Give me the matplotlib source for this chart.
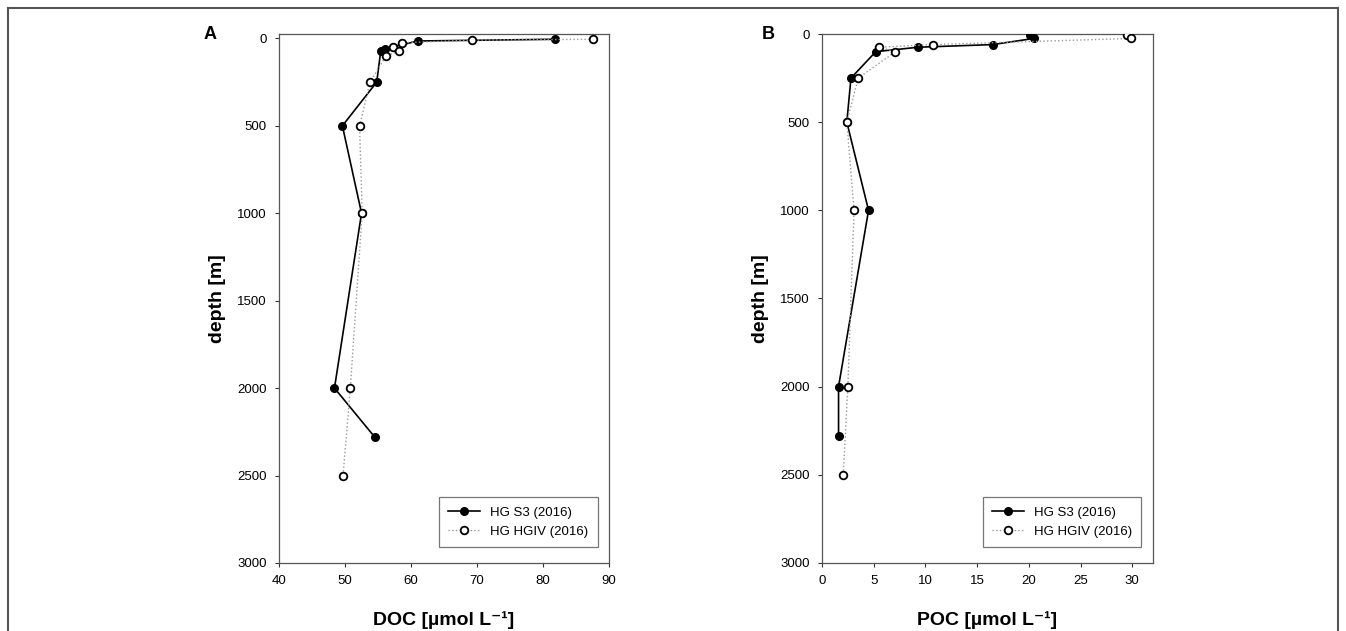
import matplotlib.pyplot as plt
from matplotlib.lines import Line2D

plt.rcParams['font.family'] = ['Liberation Sans', 'DejaVu Sans']

# panel A: DOC
doc_s3_depth = [5, 15, 60, 75, 250, 500, 1000, 2000, 2280]
doc_s3 = [81.8, 61.0, 56.0, 55.4, 54.8, 49.6, 52.5, 48.4, 54.5]
doc_hg_depth = [5, 10, 25, 50, 75, 100, 250, 500, 1000, 2000, 2500]
doc_hg = [87.6, 69.2, 58.7, 57.2, 58.2, 56.2, 53.8, 52.2, 52.6, 50.8, 49.7]

# panel B: POC
poc_s3_depth = [5, 25, 60, 75, 100, 250, 500, 1000, 2000, 2280]
poc_s3 = [20.1, 20.5, 16.5, 9.3, 5.2, 2.8, 2.4, 4.5, 1.6, 1.6]
poc_hg_depth = [5, 25, 60, 75, 100, 250, 500, 1000, 2000, 2500]
poc_hg = [29.5, 29.9, 10.7, 5.5, 7.1, 3.5, 2.4, 3.1, 2.5, 2.05]

labels = ['HG S3 (2016)', 'HG HGIV (2016)']

fig = plt.figure(figsize=(13.46, 6.31), dpi=100)

# frame around the figure
fig.add_artist(Line2D([0.006, 0.994], [0.987, 0.987], color='#555555', lw=1.5, transform=fig.transFigure))
fig.add_artist(Line2D([0.006, 0.006], [0.0, 0.987], color='#555555', lw=1.5, transform=fig.transFigure))
fig.add_artist(Line2D([0.994, 0.994], [0.0, 0.987], color='#555555', lw=1.5, transform=fig.transFigure))

axA = fig.add_axes([0.2073, 0.1078, 0.2452, 0.8383])
axB = fig.add_axes([0.6107, 0.1078, 0.2459, 0.8383])

def draw(ax, xs3, ds3, xhg, dhg, xlim, ylim_top, xticks, xlabel, letter, letter_x):
    ax.plot(xs3, ds3, '-', color='black', lw=1.2, marker='o', ms=5.5,
            mfc='black', mec='black', label=labels[0], zorder=3)
    ax.plot(xhg, dhg, ':', color='#999999', lw=1.0, marker='o', ms=5.5,
            mfc='white', mec='black', mew=1.3, label=labels[1], zorder=4)
    ax.set_xlim(*xlim)
    ax.set_ylim(3000, ylim_top)
    ax.set_xticks(xticks)
    ax.set_yticks([0, 500, 1000, 1500, 2000, 2500, 3000])
    ax.tick_params(direction='out', length=3, width=0.8, labelsize=9.5, pad=6,
                   colors='#333333', labelcolor='black')
    for s in ax.spines.values():
        s.set_color('#555555')
        s.set_linewidth(0.9)
    ax.set_xlabel(xlabel, fontsize=14, fontweight='bold', labelpad=17)
    ax.set_ylabel('depth [m]', fontsize=14, fontweight='bold', labelpad=8)
    leg = ax.legend(loc='lower right', fontsize=9.5, frameon=True, fancybox=False,
                    edgecolor='#555555', handlelength=2.4, borderpad=0.7,
                    bbox_to_anchor=(0.985, 0.018))
    leg.get_frame().set_linewidth(0.9)
    fig.text(letter_x, 0.945, letter, fontsize=13, fontweight='bold', ha='center', va='center')

draw(axA, doc_s3, doc_s3_depth, doc_hg, doc_hg_depth, (40, 90), -25,
     [40, 50, 60, 70, 80, 90], 'DOC [µmol L⁻¹]', 'A', 0.156)
draw(axB, poc_s3, poc_s3_depth, poc_hg, poc_hg_depth, (0, 32), 0,
     [0, 5, 10, 15, 20, 25, 30], 'POC [µmol L⁻¹]', 'B', 0.571)

fig.savefig('out.png', dpi=100)
